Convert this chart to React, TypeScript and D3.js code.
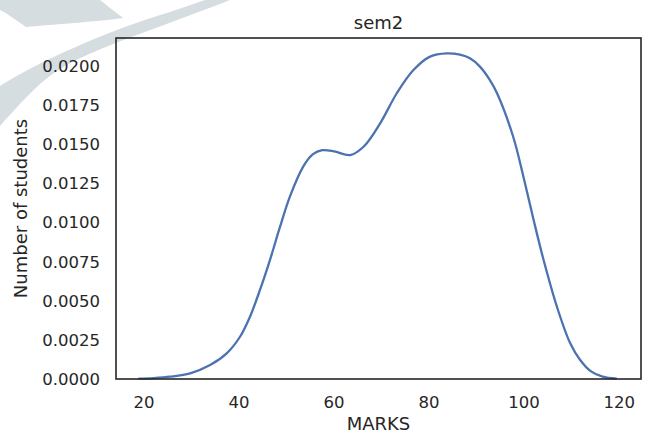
import React, { useRef, useEffect } from "react"
import * as d3 from "d3"

// density curve
const marks = [18.8, 22, 25.5, 29.7, 33.9, 37.4, 40.2, 42.3, 44.4, 46.5, 48.6, 50.7, 53.5, 55.5, 57.5, 60.0, 63.4, 66.2, 69.7, 73.2, 76.7, 80.2, 83.7, 86.5, 88.6, 90.7, 92.8, 94.3, 97.7, 99.85, 102.0, 104.1, 106.9, 109.7, 111.8, 114, 116.5, 119.5]
const density = [0.00002, 0.00006, 0.00015, 0.00036, 0.00089, 0.00164, 0.0027, 0.00398, 0.00569, 0.0076, 0.0097, 0.01165, 0.01357, 0.01435, 0.01462, 0.01455, 0.01431, 0.01484, 0.01634, 0.01826, 0.01974, 0.0206, 0.02081, 0.02072, 0.02049, 0.01996, 0.0191, 0.01826, 0.01548, 0.01293, 0.01016, 0.0076, 0.00462, 0.00228, 0.00121, 0.0005, 0.00015, 0.00002]
const xTicks = [20, 40, 60, 80, 100, 120]
const yTicks = [0, 0.0025, 0.005, 0.0075, 0.01, 0.0125, 0.015, 0.0175, 0.02]

const W = 651
const H = 433
const margin = { left: 116, right: 10, top: 38, bottom: 54 }
const ink = "#262626"
const font = "DejaVu Sans"

const App = () => {
  const ref = useRef(null)

  useEffect(() => {
    const svg = d3.select(ref.current)
    svg.selectAll("*").remove()

    // faded watermark in the corner
    const wm = svg.append("g").attr("fill", "#d5dde0")
    wm.append("path")
      .attr("d", "M0,86 C35,64 100,33 170,12 L205,0 L230,0 C170,24 105,44 65,66 C42,79 25,98 0,126 Z")
    wm.append("path")
      .attr("d", "M0,0 L100,0 C110,8 117,13 123,18 C95,22 55,24 26,27 C16,20 8,14 0,10 Z")

    const x = d3.scaleLinear().domain([14.1, 124.6]).range([margin.left, W - margin.right])
    const y = d3.scaleLinear().domain([0, 0.02179]).range([H - margin.bottom, margin.top])

    const pts = marks.map((m, i) => [m, density[i]])
    const line = d3.line()
      .x(d => x(d[0]))
      .y(d => y(d[1]))
      .curve(d3.curveCatmullRom)

    svg.append("path")
      .datum(pts)
      .attr("d", line)
      .attr("fill", "none")
      .attr("stroke", "#4c72b0")
      .attr("stroke-width", 2.3)

    // frame
    svg.append("rect")
      .attr("x", margin.left)
      .attr("y", margin.top)
      .attr("width", W - margin.left - margin.right)
      .attr("height", H - margin.top - margin.bottom)
      .attr("fill", "none")
      .attr("stroke", ink)
      .attr("stroke-width", 1.6)

    svg.append("g")
      .selectAll("text")
      .data(xTicks)
      .enter()
      .append("text")
        .attr("x", d => x(d))
        .attr("y", H - margin.bottom + 29)
        .attr("text-anchor", "middle")
        .attr("font-family", font)
        .attr("font-size", 16.5)
        .attr("fill", ink)
        .text(d => d)

    svg.append("g")
      .selectAll("text")
      .data(yTicks)
      .enter()
      .append("text")
        .attr("x", margin.left - 16)
        .attr("y", d => y(d))
        .attr("dy", "0.36em")
        .attr("text-anchor", "end")
        .attr("font-family", font)
        .attr("font-size", 16.5)
        .attr("fill", ink)
        .text(d => d3.format(".4f")(d))

    svg.append("text")
      .attr("x", (margin.left + W - margin.right) / 2)
      .attr("y", H - 3)
      .attr("text-anchor", "middle")
      .attr("font-family", font)
      .attr("font-size", 18)
      .attr("fill", ink)
      .text("MARKS")

    svg.append("text")
      .attr("transform", `translate(27,${(margin.top + H - margin.bottom) / 2}) rotate(-90)`)
      .attr("text-anchor", "middle")
      .attr("font-family", font)
      .attr("font-size", 18)
      .attr("fill", ink)
      .text("Number of students")

    svg.append("text")
      .attr("x", (margin.left + W - margin.right) / 2)
      .attr("y", 29)
      .attr("text-anchor", "middle")
      .attr("font-family", font)
      .attr("font-size", 18)
      .attr("fill", ink)
      .text("sem2")
  }, [])

  return (
    <svg ref={ref} width={W} height={H} style={{ position: "absolute", left: 0, top: 0, background: "#fff" }} />
  )
}

export default App
